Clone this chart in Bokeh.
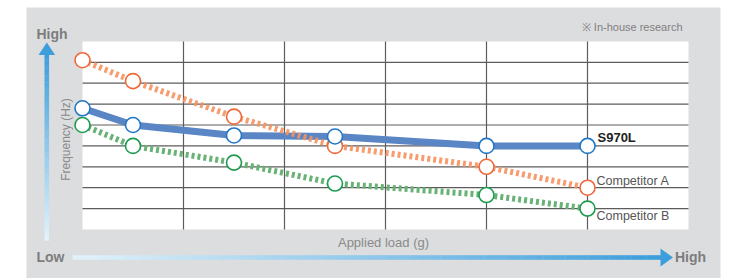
import numpy as np
from bokeh.plotting import figure
from bokeh.models import Range1d
from bokeh.core.properties import value
from bokeh.embed import file_html
from bokeh.resources import INLINE

# ---- data (relative units) ----
load = [0, 0.5, 1.5, 2.5, 4, 5]
s970l = [5.8, 5.0, 4.5, 4.45, 4.0, 4.0]
comp_a = [8.1, 7.1, 5.4, 4.0, 3.0, 2.0]
comp_b = [5.0, 4.0, 3.2, 2.2, 1.65, 1.0]
x_grid = [1, 2, 3, 4, 5]
y_grid = [1, 2, 3, 4, 5, 6, 7, 8]
x_max, y_max = 6, 9
series_names = ["S970L", "Competitor A", "Competitor B"]

# ---- layout (picture pixel coordinates) ----
W, H = 728, 278
X0, COLW = 82, 101.0      # data x=0 at picture x 82
Y0, ROWH = 229, 20.9      # data y=0 at picture y 229

p = figure(width=W, height=H, output_backend="svg", toolbar_location=None,
           x_range=Range1d(0, W), y_range=Range1d(H, 0),
           x_axis_type=None, y_axis_type=None,
           min_border=0, min_border_left=0, min_border_right=0,
           min_border_top=0, min_border_bottom=0)
p.grid.visible = False
p.outline_line_color = None
p.background_fill_color = "white"
p.border_fill_color = "white"

p.extra_x_ranges = {"load": Range1d((0 - X0) / COLW, (W - X0) / COLW)}
p.extra_y_ranges = {"freq": Range1d((Y0 - H) / ROWH, (Y0 - 0) / ROWH)}
D = dict(x_range_name="load", y_range_name="freq")

# gray panel
p.quad(left=26, right=720, top=7, bottom=290, fill_color="#dcdddf", line_color=None)
# white plot area
p.quad(left=0, right=x_max, bottom=0, top=y_max, fill_color="white", line_color=None, **D)
# grid
p.segment(x0=x_grid, y0=[0] * len(x_grid), x1=x_grid, y1=[y_max] * len(x_grid),
          line_color="#5c5c5c", line_width=1.2, **D)
p.segment(x0=[0] * len(y_grid), y0=y_grid, x1=[x_max] * len(y_grid), y1=y_grid,
          line_color="#5c5c5c", line_width=1.2, **D)

# gradient arrows
def blend(c1, c2, t):
    a = np.array([int(c1[i:i + 2], 16) for i in (1, 3, 5)])
    b = np.array([int(c2[i:i + 2], 16) for i in (1, 3, 5)])
    c = (a + (b - a) * t).round().astype(int)
    return "#%02x%02x%02x" % tuple(c)

BLUE = "#3c9edb"
LIGHT = "#e2f2fb"
N = 80
ys = np.linspace(54, 240, N + 1)
p.quad(left=[44] * N, right=[48.6] * N, top=ys[:-1], bottom=ys[1:] + 0.3,
       fill_color=[blend(BLUE, LIGHT, t) for t in np.linspace(0, 1, N)], line_color=None)
p.patch([38, 46.3, 54.6], [54.5, 42, 54.5], fill_color=BLUE, line_color=None)
xs = np.linspace(72, 660.5, N + 1)
p.quad(left=xs[:-1], right=xs[1:] + 0.3, top=[254.7] * N, bottom=[259.3] * N,
       fill_color=[blend(LIGHT, BLUE, t) for t in np.linspace(0, 1, N)], line_color=None)
p.patch([660, 672.5, 660], [248, 257, 266], fill_color=BLUE, line_color=None)

# series lines
p.line(load, s970l, line_color="#5a86c6", line_width=7, **D)
p.line(load, comp_a, line_color="#f5915f", line_width=6, line_dash="3 3",
       line_alpha=0.9, **D)
p.line(load, comp_b, line_color="#68b276", line_width=6, line_dash="3 3", **D)
# markers
p.scatter(load, comp_a, size=15, fill_color="white", line_color="#f0683a", line_width=1.6, **D)
p.scatter(load, comp_b, size=15, fill_color="white", line_color="#1e9b4f", line_width=1.6, **D)
p.scatter(load, s970l, size=15, fill_color="white", line_color="#2277c6", line_width=1.6, **D)

# texts
F = value("Liberation Sans")
p.text(x=[597], y=[136.5], text=[series_names[0]], text_font=F, text_font_size="13px",
       text_font_style="bold", text_color="#222222", text_baseline="middle")
p.text(x=[596], y=[180.5], text=[series_names[1]], text_font=F, text_font_size="12.5px",
       text_color="#555555", text_baseline="middle")
p.text(x=[596], y=[215.5], text=[series_names[2]], text_font=F, text_font_size="12.5px",
       text_color="#555555", text_baseline="middle")
p.text(x=[682], y=[26], text=["※ In-house research"], text_font=F, text_font_size="11px",
       text_color="#808080", text_baseline="middle", text_align="right")
p.text(x=[383], y=[241.5], text=["Applied load (g)"], text_font=F, text_font_size="13px",
       text_color="#8a8a8a", text_baseline="middle", text_align="center")
p.text(x=[65.5], y=[139], text=["Frequency (Hz)"], text_font=F, text_font_size="12px",
       text_color="#8a8a8a", text_baseline="middle", text_align="center", angle=np.pi / 2)
p.text(x=[36], y=[33.5], text=["High"], text_font=F, text_font_size="14px",
       text_font_style="bold", text_color="#7d7d7d", text_baseline="middle")
p.text(x=[36], y=[256], text=["Low"], text_font=F, text_font_size="14px",
       text_font_style="bold", text_color="#7d7d7d", text_baseline="middle")
p.text(x=[674.5], y=[256], text=["High"], text_font=F, text_font_size="14px",
       text_font_style="bold", text_color="#7d7d7d", text_baseline="middle")

open("out.html", "w").write(file_html(p, INLINE))
